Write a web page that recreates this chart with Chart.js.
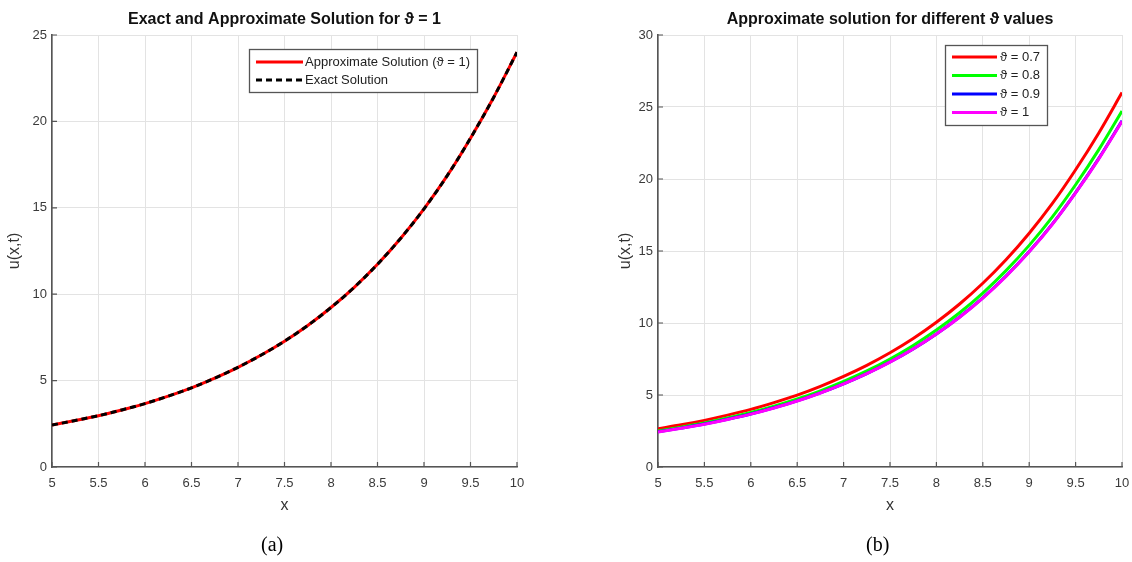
<!DOCTYPE html>
<html><head><meta charset="utf-8">
<script src="https://cdn.jsdelivr.net/npm/chart.js@4.4.1/dist/chart.umd.min.js"></script>
<style>
html,body{margin:0;padding:0;background:#fff;width:1132px;height:562px;overflow:hidden;}
.wrap{position:absolute;top:0;width:566px;height:562px;overflow:hidden;}
.cap{position:absolute;top:533px;font-family:"Liberation Serif","DejaVu Serif",serif;font-size:20px;color:#000;}
</style></head>
<body>
<div class="wrap" style="left:0"><canvas id="c1" width="566" height="562"></canvas></div>
<div class="wrap" style="left:566px"><canvas id="c2" width="596" height="562"></canvas></div>
<div class="cap" style="left:261px">(a)</div>
<div class="cap" style="left:866px">(b)</div>
<script>
const xs = [5,5.25,5.5,5.75,6,6.25,6.5,6.75,7,7.25,7.5,7.75,8,8.25,8.5,8.75,9,9.25,9.5,9.75,10];
const exact   = [2.43,2.69,2.97,3.30,3.67,4.10,4.58,5.14,5.77,6.48,7.28,8.19,9.23,10.40,11.73,13.24,14.94,16.86,19.03,21.40,24.0];
const approx1 = [2.43,2.69,2.97,3.30,3.67,4.10,4.58,5.14,5.77,6.48,7.28,8.19,9.23,10.40,11.73,13.24,14.94,16.86,19.03,21.40,24.0];
const th07 = [2.66,2.93,3.24,3.60,4.00,4.47,4.99,5.60,6.29,7.06,7.93,8.92,10.05,11.32,12.76,14.39,16.23,18.30,20.64,23.20,26.0];
const th08 = [2.50,2.77,3.06,3.40,3.78,4.22,4.72,5.29,5.94,6.67,7.50,8.44,9.51,10.71,12.08,13.64,15.39,17.37,19.60,22.04,24.72];
const th09 = [2.44,2.70,2.98,3.31,3.68,4.11,4.59,5.15,5.78,6.49,7.29,8.20,9.24,10.42,11.75,13.26,14.96,16.88,19.06,21.43,24.04];
const th10 = [2.43,2.69,2.97,3.30,3.67,4.10,4.58,5.14,5.77,6.48,7.28,8.19,9.23,10.40,11.73,13.24,14.94,16.86,19.03,21.40,24.0];
const xTicks = [5,5.5,6,6.5,7,7.5,8,8.5,9,9.5,10];
const yTicksA = [0,5,10,15,20,25];
const yTicksB = [0,5,10,15,20,25,30];
const titleA = "Exact and Approximate Solution for \u03D1 = 1";
const titleB = "Approximate solution for different \u03D1 values";
const labelsA = ["Approximate Solution (\u03D1 = 1)","Exact Solution"];
const labelsB = ["\u03D1 = 0.7","\u03D1 = 0.8","\u03D1 = 0.9","\u03D1 = 1"];

const FONT = '"Liberation Sans", Arial, sans-serif';
const TICKC = '#3a3a3a';

function pts(ys){ return xs.map((x,i)=>({x:x,y:ys[i]})); }

function decoPlugin(cfg){
  return {
    id:'deco',
    afterDraw(chart){
      const ctx = chart.ctx, a = chart.chartArea;
      const sx = chart.scales.x, sy = chart.scales.y;
      ctx.save();
      ctx.strokeStyle = '#555'; ctx.lineWidth = 1.2;
      ctx.beginPath();
      sx.ticks.forEach(t=>{ const p = sx.getPixelForValue(t.value); ctx.moveTo(p,a.bottom); ctx.lineTo(p,a.bottom-5); });
      sy.ticks.forEach(t=>{ const p = sy.getPixelForValue(t.value); ctx.moveTo(a.left,p); ctx.lineTo(a.left+5,p); });
      ctx.stroke();
      ctx.fillStyle = '#111';
      ctx.font = 'bold 16px ' + FONT;
      ctx.textAlign = 'center'; ctx.textBaseline = 'middle';
      ctx.fillText(cfg.title, (a.left+a.right)/2, 20);
      ctx.font = '16px ' + FONT; ctx.fillStyle = '#333';
      ctx.fillText('x', (a.left+a.right)/2, 506);
      ctx.save();
      ctx.translate(cfg.ylabX, (a.top+a.bottom)/2);
      ctx.rotate(-Math.PI/2);
      ctx.fillText('u(x,t)', 0, 0);
      ctx.restore();
      const L = cfg.legend;
      ctx.fillStyle = '#fff';
      ctx.fillRect(L.x, L.y, L.w, L.h);
      ctx.strokeStyle = '#555'; ctx.lineWidth = 1.3;
      ctx.strokeRect(L.x+0.5, L.y+0.5, L.w, L.h);
      ctx.font = '13px ' + FONT; ctx.textAlign = 'left'; ctx.fillStyle = '#222';
      chart.data.datasets.forEach((ds, i)=>{
        const yy = L.y + L.first + i*L.row;
        ctx.save();
        ctx.strokeStyle = ds.borderColor; ctx.lineWidth = 3;
        ctx.setLineDash(ds.borderDash || []);
        ctx.beginPath(); ctx.moveTo(L.x+L.lx0, yy); ctx.lineTo(L.x+L.lx1, yy); ctx.stroke();
        ctx.restore();
        ctx.fillText(ds.label, L.x+L.tx, yy);
      });
      ctx.restore();
    }
  };
}

function makeChart(id, datasets, yTicks, ymax, padL, padR, cfg){
  const ch = new Chart(document.getElementById(id), {
    type:'line',
    data:{ datasets: datasets },
    options:{
      responsive:false, animation:false,
      layout:{ padding:{ left:0, right:padR, top:35, bottom:0 } },
      plugins:{ legend:{display:false}, title:{display:false}, tooltip:{enabled:false} },
      elements:{ point:{radius:0}, line:{cubicInterpolationMode:'monotone'} },
      scales:{
        x:{ type:'linear', min:5, max:10,
            afterBuildTicks(s){ s.ticks = xTicks.map(v=>({value:v})); },
            afterFit(s){ s.height = 95; },
            grid:{ color:'#e3e3e3', lineWidth:1, drawTicks:false },
            border:{ display:true, color:'#555', width:1.6 },
            ticks:{ padding:9, color:TICKC, font:{family:FONT, size:13}, maxRotation:0, autoSkip:false, callback:v=>String(v) } },
        y:{ type:'linear', min:0, max:ymax,
            afterBuildTicks(s){ s.ticks = yTicks.map(v=>({value:v})); },
            afterFit(s){ s.width = padL; },
            grid:{ color:'#e3e3e3', lineWidth:1, drawTicks:false },
            border:{ display:true, color:'#555', width:1.6 },
            ticks:{ padding:5, color:TICKC, font:{family:FONT, size:13}, callback:v=>String(v) } }
      }
    },
    plugins:[decoPlugin(cfg)]
  });
  for (let k = 0; k < 3; k++) {
    const d = ch.chartArea.right - cfg.targetRight;
    if (Math.abs(d) <= 0.5) break;
    ch.options.layout.padding.right += d;
    ch.update();
  }
  return ch;
}

makeChart('c1', [
  { label:labelsA[0], data:pts(approx1), borderColor:'#ff0000', borderWidth:3, fill:false, order:2 },
  { label:labelsA[1], data:pts(exact), borderColor:'#000000', borderWidth:3, borderDash:[6,4], fill:false, order:1 }
], yTicksA, 25, 52, 49, {
  title:titleA, ylabX:15, targetRight:517,
  legend:{ x:249, y:49, w:228, h:43, first:13, row:18, lx0:7, lx1:54, tx:56 }
});

makeChart('c2', [
  { label:labelsB[0], data:pts(th07), borderColor:'#ff0000', borderWidth:3, fill:false, order:4 },
  { label:labelsB[1], data:pts(th08), borderColor:'#00ff00', borderWidth:3, fill:false, order:3 },
  { label:labelsB[2], data:pts(th09), borderColor:'#0000ff', borderWidth:3, fill:false, order:2 },
  { label:labelsB[3], data:pts(th10), borderColor:'#ff00ff', borderWidth:3, fill:false, order:1 }
], yTicksB, 30, 92, 40, {
  title:titleB, ylabX:60, targetRight:556,
  legend:{ x:379, y:45, w:102, h:80, first:12, row:18.5, lx0:7, lx1:52, tx:55 }
});
</script>
</body></html>
